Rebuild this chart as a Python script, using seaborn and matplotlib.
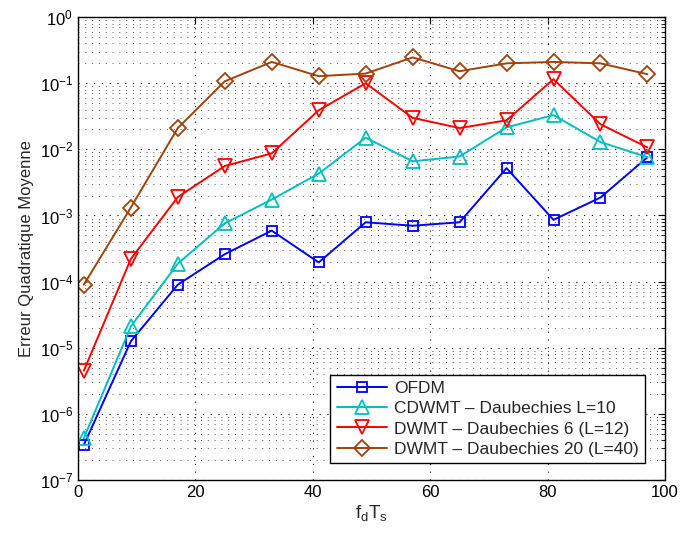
import numpy as np
import pandas as pd
import seaborn as sns
import matplotlib
matplotlib.use("Agg")
import matplotlib.pyplot as plt
from matplotlib.ticker import LogLocator, FixedLocator, NullFormatter

sns.set_style("white")
plt.rcParams['font.family'] = ['Liberation Sans', 'DejaVu Sans']
plt.rcParams['mathtext.fontset'] = 'custom'
plt.rcParams['mathtext.rm'] = 'Liberation Sans'
plt.rcParams['mathtext.it'] = 'Liberation Sans'
plt.rcParams['mathtext.default'] = 'regular'

# data
fdTs = [1, 9, 17, 25, 33, 41, 49, 57, 65, 73, 81, 89, 97]
ofdm = [3.4e-7, 1.25e-5, 9e-5, 2.6e-4, 5.9e-4, 1.95e-4, 7.9e-4, 7.0e-4, 7.9e-4, 5.2e-3, 8.6e-4, 1.87e-3, 7.6e-3]
cdwmt_db10 = [4.3e-7, 2.1e-5, 1.87e-4, 7.6e-4, 1.74e-3, 4.3e-3, 0.015, 6.6e-3, 7.8e-3, 0.0215, 0.033, 0.0129, 7.6e-3]
dwmt_db6 = [4.5e-6, 2.2e-4, 1.9e-3, 5.6e-3, 8.7e-3, 0.039, 0.1, 0.030, 0.021, 0.0275, 0.115, 0.024, 0.0107]
dwmt_db20 = [9e-5, 1.32e-3, 0.021, 0.107, 0.21, 0.128, 0.14, 0.246, 0.152, 0.20, 0.21, 0.20, 0.137]

labels = ['OFDM', 'CDWMT \u2013 Daubechies L=10',
          'DWMT \u2013 Daubechies 6 (L=12)', 'DWMT \u2013 Daubechies 20 (L=40)']
series = [ofdm, cdwmt_db10, dwmt_db6, dwmt_db20]
colors = ['#0000ff', '#00bfbf', '#ff0000', '#a0420a']
markers = ['s', '^', 'v', 'D']
msizes = [7.5, 9.5, 9.5, 8.5]

fig = plt.figure(figsize=(6.8, 5.35), dpi=100)
ax = fig.add_axes([0.1147, 0.1028, 0.978 - 0.1147, 0.968 - 0.1028])

for lab, vals, c, m, ms in zip(labels, series, colors, markers, msizes):
    df = pd.DataFrame({'x': fdTs, 'y': vals})
    sns.lineplot(data=df, x='x', y='y', ax=ax, color=c, marker=m, markersize=ms,
                 markerfacecolor='none', markeredgecolor=c, markeredgewidth=1.3,
                 linewidth=1.4, label=lab)

ax.set_yscale('log')
ax.set_xlim(0, 100)
ax.set_ylim(1e-7, 1e0)
ax.xaxis.set_major_locator(FixedLocator([0, 20, 40, 60, 80, 100]))
ax.yaxis.set_major_locator(LogLocator(base=10, numticks=10))
ax.yaxis.set_minor_locator(LogLocator(base=10, subs=np.arange(2, 10), numticks=100))
ax.yaxis.set_minor_formatter(NullFormatter())

ax.grid(True, which='major', axis='both', color='black', linestyle=(0, (1, 6)), linewidth=0.8)
ax.grid(True, which='minor', axis='y', color='#555555', linestyle=(0, (1, 6)), linewidth=0.7)
ax.set_axisbelow(True)

ax.tick_params(which='both', direction='in', top=True, right=True, labelsize=12, colors='black')
ax.tick_params(which='major', length=5)
ax.tick_params(which='minor', length=3)
for sp in ax.spines.values():
    sp.set_color('black')
    sp.set_linewidth(1.0)

ax.set_xlabel(r'$f_dT_s$', fontsize=13.5, labelpad=2)
ax.set_ylabel('Erreur Quadratique Moyenne', fontsize=12)

leg = ax.legend(loc='lower right', bbox_to_anchor=(0.98, 0.018), fontsize=12.5,
                frameon=True, fancybox=False, edgecolor='black', framealpha=1,
                handlelength=2.9, borderpad=0.35, labelspacing=0.3, handletextpad=0.4)
leg.get_frame().set_linewidth(1.0)

fig.savefig('out.png', dpi=100)
